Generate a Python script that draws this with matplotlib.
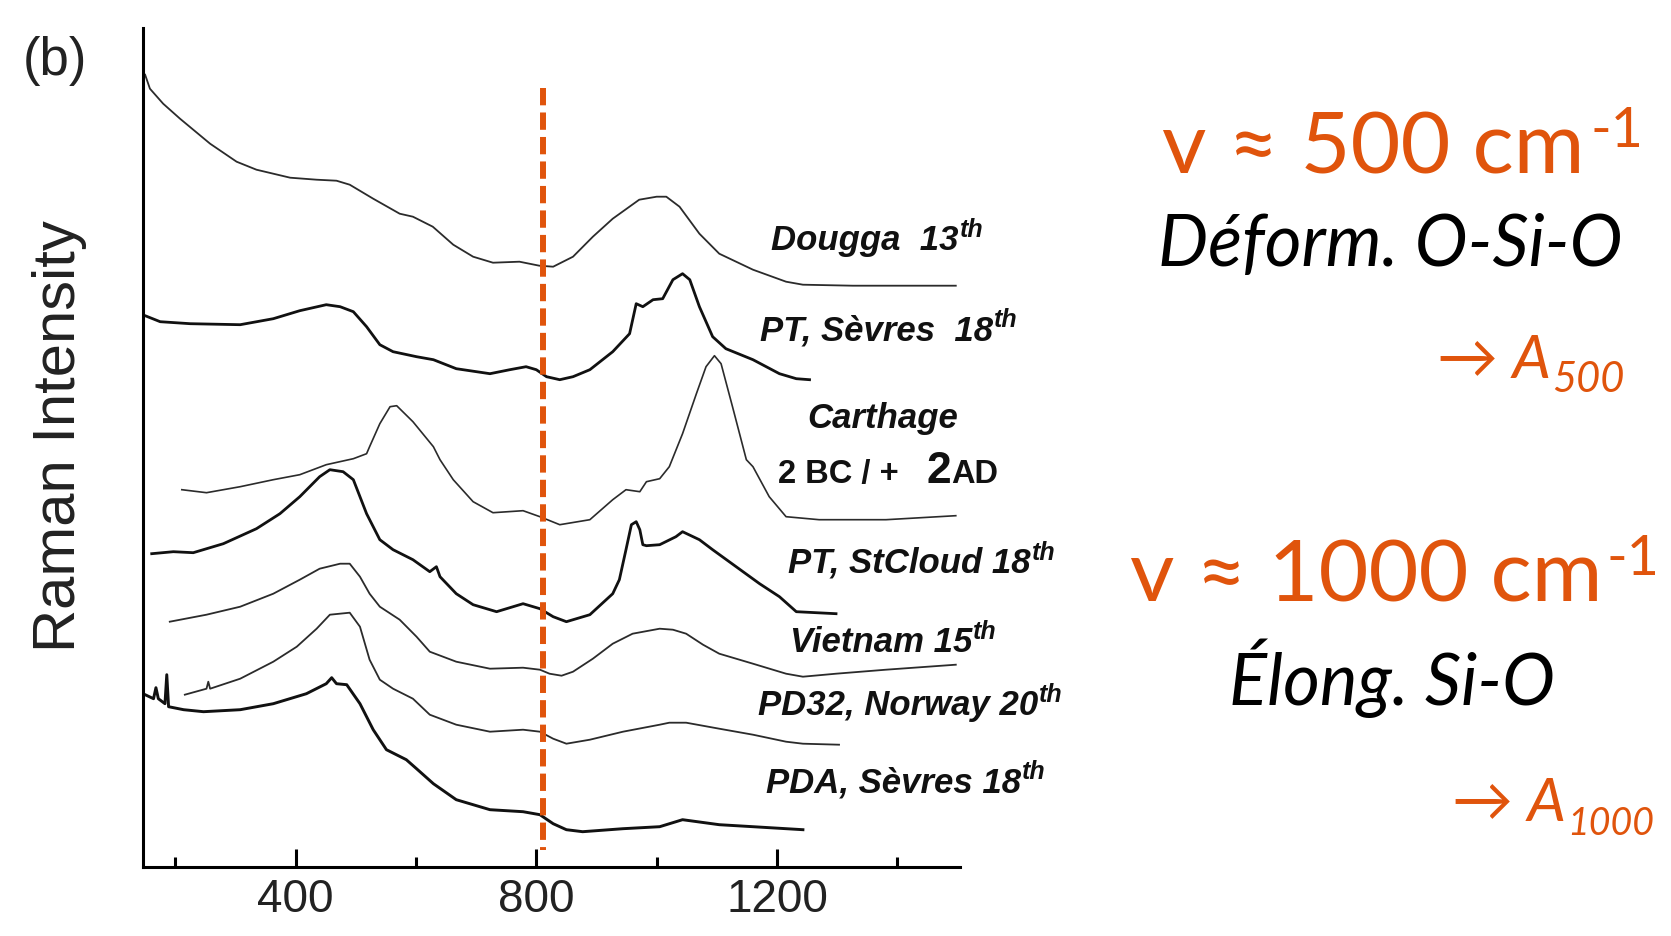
import matplotlib
matplotlib.use('Agg')
import matplotlib.pyplot as plt
from matplotlib import font_manager
from matplotlib.ticker import FixedLocator, NullLocator

W, H = 1671, 936
ORANGE = '#E0540C'

# spectres : nombre d'onde (cm-1) / intensite (u.a.)
dougga_wn = [150, 158, 180, 208, 258, 302, 335, 391, 435, 468, 490, 529, 573, 595, 628, 662, 695, 728,
             772, 805, 828, 861, 894, 927, 971, 1000, 1016, 1038, 1071, 1104, 1160, 1215, 1243, 1326, 1497]
dougga_int = [792, 778, 763, 748, 723, 705, 697, 689, 687, 686, 682, 668, 653, 650, 640, 622, 610, 604,
              605, 601, 600, 610, 630, 648, 667, 670, 670, 660, 633, 613, 597, 585, 582, 581, 581]

sevres_wn = [150, 175, 225, 308, 363, 407, 451, 474, 496, 518, 540, 562, 601, 629, 667, 723, 756, 783,
             800, 817, 839, 861, 889, 927, 955, 966, 977, 994, 1010, 1027, 1043, 1055, 1071, 1093, 1115,
             1160, 1204, 1232, 1254]
sevres_int = [551, 545, 543, 542, 548, 556, 562, 560, 555, 540, 522, 515, 510, 507, 498, 493, 497, 500,
              497, 490, 487, 490, 497, 515, 533, 563, 560, 567, 568, 587, 593, 587, 560, 530, 518,
              507, 493, 488, 487]

carthage_wn = [211, 252, 308, 363, 407, 451, 496, 518, 523, 540, 557, 568, 595, 629, 640, 662, 695, 728,
               778, 806, 839, 889, 927, 949, 972, 983, 1005, 1021, 1043, 1066, 1082, 1096, 1107, 1126,
               1149, 1160, 1187, 1215, 1270, 1381, 1497]
carthage_int = [377, 374, 380, 387, 392, 402, 408, 413, 420, 443, 460, 461, 445, 420, 407, 387, 365, 354,
                356, 350, 342, 347, 367, 377, 375, 385, 388, 400, 433, 473, 500, 511, 503, 460,
                407, 400, 370, 350, 347, 347, 351]

stcloud_wn = [161, 197, 230, 280, 335, 374, 407, 440, 457, 479, 496, 518, 540, 562, 595, 623, 634, 640,
              667, 695, 734, 778, 806, 828, 850, 889, 927, 938, 949, 958, 966, 972, 977, 983, 1005,
              1032, 1043, 1071, 1093, 1132, 1171, 1204, 1232, 1298]
stcloud_int = [313, 315, 314, 323, 338, 353, 370, 390, 397, 395, 387, 353, 327, 317, 307, 295, 300, 290,
               273, 262, 255, 263, 258, 250, 245, 252, 273, 287, 317, 342, 345, 337, 322, 321, 322,
               330, 335, 327, 317, 300, 283, 270, 255, 253]

vietnam_wn = [191, 252, 308, 363, 407, 440, 474, 490, 507, 523, 540, 573, 601, 623, 667, 723, 778, 806,
              822, 842, 861, 894, 927, 960, 1005, 1027, 1049, 1077, 1104, 1160, 1215, 1243, 1298, 1381, 1497]
vietnam_int = [245, 252, 260, 273, 287, 298, 303, 303, 290, 273, 260, 247, 230, 215, 205, 198, 199, 197,
               193, 191, 195, 208, 223, 233, 238, 237, 233, 222, 213, 203, 193, 190, 193, 197, 202]

norway_wn = [216, 252, 255, 258, 308, 363, 402, 435, 457, 490, 507, 523, 540, 562, 595, 623, 667, 723,
             778, 806, 828, 850, 889, 944, 1005, 1021, 1049, 1104, 1160, 1215, 1243, 1303]
norway_int = [172, 178, 185, 178, 188, 205, 220, 238, 252, 254, 240, 207, 187, 178, 168, 152, 142, 135,
              137, 135, 128, 123, 127, 135, 142, 144, 144, 138, 132, 125, 123, 122]

pda_wn = [150, 164, 168, 172, 183, 186, 189, 214, 247, 308, 363, 418, 451, 460, 468, 485, 507, 529, 551,
          584, 601, 629, 667, 723, 778, 806, 828, 850, 877, 944, 1005, 1043, 1104, 1160, 1243]
pda_int = [172, 168, 179, 168, 163, 192, 160, 157, 155, 157, 163, 173, 183, 189, 183, 182, 163, 137, 117,
           107, 98, 83, 67, 57, 55, 52, 43, 37, 35, 38, 40, 47, 42, 40, 37]

major_ticks = [400, 800, 1200]
minor_ticks = [200, 600, 1000, 1400]
marker_wn = 811
marker_span = [779, 17]

names = {f.name for f in font_manager.fontManager.ttflist}
narrow = 'Liberation Sans Narrow' in names
tick_family = ['Liberation Sans Narrow', 'Liberation Sans'] if narrow else ['Liberation Sans']
tick_size = 35 if narrow else 33

fig = plt.figure(figsize=(W / 100, H / 100), dpi=100)
ax = fig.add_axes([143.3 / W, 1 - 866.7 / H, (960 - 143.3) / W, (866.7 - 28) / H])

spectra = [(dougga_wn, dougga_int, 1.3, '#2b2b2b'),
           (sevres_wn, sevres_int, 2.0, '#111111'),
           (carthage_wn, carthage_int, 1.2, '#2b2b2b'),
           (stcloud_wn, stcloud_int, 2.0, '#111111'),
           (vietnam_wn, vietnam_int, 1.3, '#2b2b2b'),
           (norway_wn, norway_int, 1.3, '#2b2b2b'),
           (pda_wn, pda_int, 2.1, '#111111')]
for wn, inten, lw, col in spectra:
    ax.plot(wn, inten, color=col, lw=lw, solid_joinstyle='round')

ax.plot([marker_wn, marker_wn], marker_span, color=ORANGE, lw=4.3, ls=(0, (2.9, 1.2)))

ax.set_xlim(147, 1504)
ax.set_ylim(0, 838.7)
for s in ['top', 'right']:
    ax.spines[s].set_visible(False)
for s in ['left', 'bottom']:
    ax.spines[s].set_linewidth(2.2)
ax.yaxis.set_major_locator(NullLocator())
ax.xaxis.set_major_locator(FixedLocator(major_ticks))
ax.xaxis.set_minor_locator(FixedLocator(minor_ticks))
ax.tick_params(axis='x', which='major', direction='in', length=13, width=2.2, pad=8,
               labelsize=tick_size, labelcolor='#222222')
ax.tick_params(axis='x', which='minor', direction='in', length=7, width=2.2)
for lab in ax.get_xticklabels():
    lab.set_family(tick_family)

renderer = fig.canvas.get_renderer()


def put(x, y, s, **kw):
    return fig.text(x / W, 1 - y / H, s, ha='left', va='baseline', **kw)


def put_script(x, y, s, script, dy, script_size, gap=1, **kw):
    t = put(x, y, s, **kw)
    bb = t.get_window_extent(renderer)
    kw2 = dict(kw)
    kw2['fontsize'] = script_size
    put(bb.x1 + gap, y - dy, script, **kw2)


# etiquettes des spectres
lab = dict(family='Liberation Sans', weight='bold', style='italic', fontsize=25, color='#111111')
put_script(771, 250, 'Dougga  13', 'th', 13, 18, **lab)
put_script(760, 340, 'PT, Sèvres  18', 'th', 13, 18, **lab)
put(807, 428, 'Carthage', **lab)
up = dict(family='Liberation Sans', weight='bold', color='#111111')
put(778, 483, '2 BC / +', fontsize=23.5, **up)
put(927, 483, '2', fontsize=32, **up)
put(951, 483, 'AD', fontsize=23.5, **up)
put_script(788, 573, 'PT, StCloud 18', 'th', 13, 18, **lab)
put_script(790, 652, 'Vietnam 15', 'th', 13, 18, **lab)
put_script(758, 715, 'PD32, Norway 20', 'th', 13, 18, **lab)
put_script(766, 792, 'PDA, Sèvres 18', 'th', 13, 18, **lab)

put(23, 75, '(b)', family='Liberation Sans', fontsize=38, color='#222222')
fig.text(60 / W, 1 - 436 / H, 'Raman Intensity', rotation=90, ha='center', va='center',
         family='Liberation Sans', fontsize=43, color='#222222')

# annotations a droite
big = dict(family=['Lato', 'DejaVu Sans'], color=ORANGE)
put_script(1162, 174, 'v ≈ 500 cm', '-1', 27, 40, gap=6, fontsize=62, **big)
put(1158, 266, 'Déform. O-Si-O', family=['Lato', 'DejaVu Sans'], style='italic', fontsize=51, color='black')
put_script(1437, 378, '→ A', '500', -14, 30, fontsize=44, style='italic', **big)
put_script(1130, 602, 'v ≈ 1000 cm', '-1', 27, 40, gap=4, fontsize=62, **big)
put(1229, 705, 'Élong. Si-O', family=['Lato', 'DejaVu Sans'], style='italic', fontsize=51, color='black')
put_script(1452, 821, '→ A', '1000', -14, 27, fontsize=44, style='italic', **big)

fig.savefig('out.png', dpi=100)
